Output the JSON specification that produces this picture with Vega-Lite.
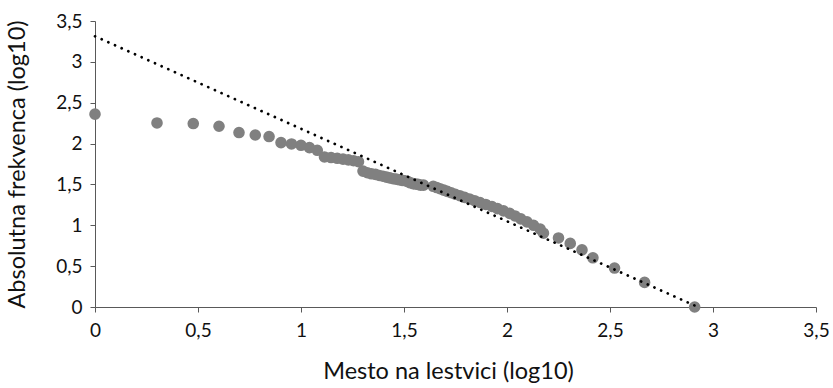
{
  "$schema": "https://vega.github.io/schema/vega-lite/v6.json",
  "autosize": {"type": "none"},
  "width": 721,
  "height": 286,
  "padding": {"left": 95, "top": 21, "right": 17, "bottom": 81},
  "background": "white",
  "config": {
    "view": {"stroke": null},
    "font": "Lato",
    "axis": {
      "grid": false,
      "domainColor": "#595959",
      "tickColor": "#595959",
      "tickSize": 5,
      "labelColor": "#111111",
      "titleColor": "#111111",
      "labelFont": "Lato",
      "titleFont": "Lato",
      "labelFontSize": 19,
      "titleFontSize": 23.5,
      "titleFontWeight": "normal"
    }
  },
  "datasets": {
    "points": [
      {"x": 0.000, "y": 2.360},
      {"x": 0.301, "y": 2.252},
      {"x": 0.477, "y": 2.245},
      {"x": 0.602, "y": 2.212},
      {"x": 0.699, "y": 2.135},
      {"x": 0.778, "y": 2.105},
      {"x": 0.845, "y": 2.086},
      {"x": 0.903, "y": 2.012},
      {"x": 0.954, "y": 1.995},
      {"x": 1.000, "y": 1.979},
      {"x": 1.041, "y": 1.951},
      {"x": 1.079, "y": 1.918},
      {"x": 1.114, "y": 1.836},
      {"x": 1.146, "y": 1.829},
      {"x": 1.176, "y": 1.820},
      {"x": 1.204, "y": 1.810},
      {"x": 1.230, "y": 1.800},
      {"x": 1.255, "y": 1.790},
      {"x": 1.279, "y": 1.778},
      {"x": 1.301, "y": 1.663},
      {"x": 1.322, "y": 1.643},
      {"x": 1.342, "y": 1.630},
      {"x": 1.362, "y": 1.623},
      {"x": 1.380, "y": 1.610},
      {"x": 1.398, "y": 1.600},
      {"x": 1.415, "y": 1.590},
      {"x": 1.431, "y": 1.580},
      {"x": 1.447, "y": 1.570},
      {"x": 1.462, "y": 1.565},
      {"x": 1.477, "y": 1.557},
      {"x": 1.491, "y": 1.550},
      {"x": 1.505, "y": 1.545},
      {"x": 1.519, "y": 1.535},
      {"x": 1.531, "y": 1.520},
      {"x": 1.544, "y": 1.510},
      {"x": 1.556, "y": 1.505},
      {"x": 1.568, "y": 1.500},
      {"x": 1.580, "y": 1.492},
      {"x": 1.595, "y": 1.491},
      {"x": 1.642, "y": 1.477},
      {"x": 1.659, "y": 1.462},
      {"x": 1.675, "y": 1.447},
      {"x": 1.693, "y": 1.431},
      {"x": 1.710, "y": 1.415},
      {"x": 1.729, "y": 1.398},
      {"x": 1.749, "y": 1.380},
      {"x": 1.771, "y": 1.362},
      {"x": 1.794, "y": 1.342},
      {"x": 1.818, "y": 1.322},
      {"x": 1.843, "y": 1.301},
      {"x": 1.869, "y": 1.279},
      {"x": 1.897, "y": 1.255},
      {"x": 1.927, "y": 1.230},
      {"x": 1.954, "y": 1.204},
      {"x": 1.983, "y": 1.176},
      {"x": 2.013, "y": 1.146},
      {"x": 2.039, "y": 1.114},
      {"x": 2.067, "y": 1.079},
      {"x": 2.097, "y": 1.041},
      {"x": 2.129, "y": 1.000},
      {"x": 2.161, "y": 0.954},
      {"x": 2.177, "y": 0.903},
      {"x": 2.250, "y": 0.845},
      {"x": 2.307, "y": 0.778},
      {"x": 2.364, "y": 0.699},
      {"x": 2.417, "y": 0.602},
      {"x": 2.522, "y": 0.477},
      {"x": 2.668, "y": 0.301},
      {"x": 2.911, "y": 0.000}
    ],
    "trend": [
      {"x": 0.000, "y": 3.313},
      {"x": 2.911, "y": 0.018}
    ]
  },
  "layer": [
    {
      "data": {"name": "points"},
      "mark": {"type": "point", "shape": "circle", "filled": true, "size": 135, "color": "#808080", "opacity": 1, "strokeWidth": 0},
      "encoding": {
        "x": {
          "field": "x", "type": "quantitative",
          "scale": {"domain": [0, 3.5], "nice": false, "zero": false},
          "axis": {
            "values": [0, 0.5, 1, 1.5, 2, 2.5, 3, 3.5],
            "labelExpr": "replace(format(datum.value, '.1~f'), '.', ',')",
            "title": "Mesto na lestvici (log10)",
            "titleX": 353,
            "labelPadding": 9,
            "titlePadding": 19,
            "labelFlush": false,
            "labelOverlap": false
          }
        },
        "y": {
          "field": "y", "type": "quantitative",
          "scale": {"domain": [0, 3.5], "nice": false, "zero": false},
          "axis": {
            "values": [0, 0.5, 1, 1.5, 2, 2.5, 3, 3.5],
            "labelExpr": "replace(format(datum.value, '.1~f'), '.', ',')",
            "title": "Absolutna frekvenca (log10)",
            "labelPadding": 8,
            "titlePadding": 26,
            "labelFlush": false,
            "labelOverlap": false
          }
        }
      }
    },
    {
      "data": {"name": "trend"},
      "mark": {"type": "line", "color": "#000000", "strokeWidth": 2.7, "strokeDash": [0.1, 7.2], "strokeCap": "round"},
      "encoding": {
        "x": {"field": "x", "type": "quantitative"},
        "y": {"field": "y", "type": "quantitative"}
      }
    }
  ]
}
